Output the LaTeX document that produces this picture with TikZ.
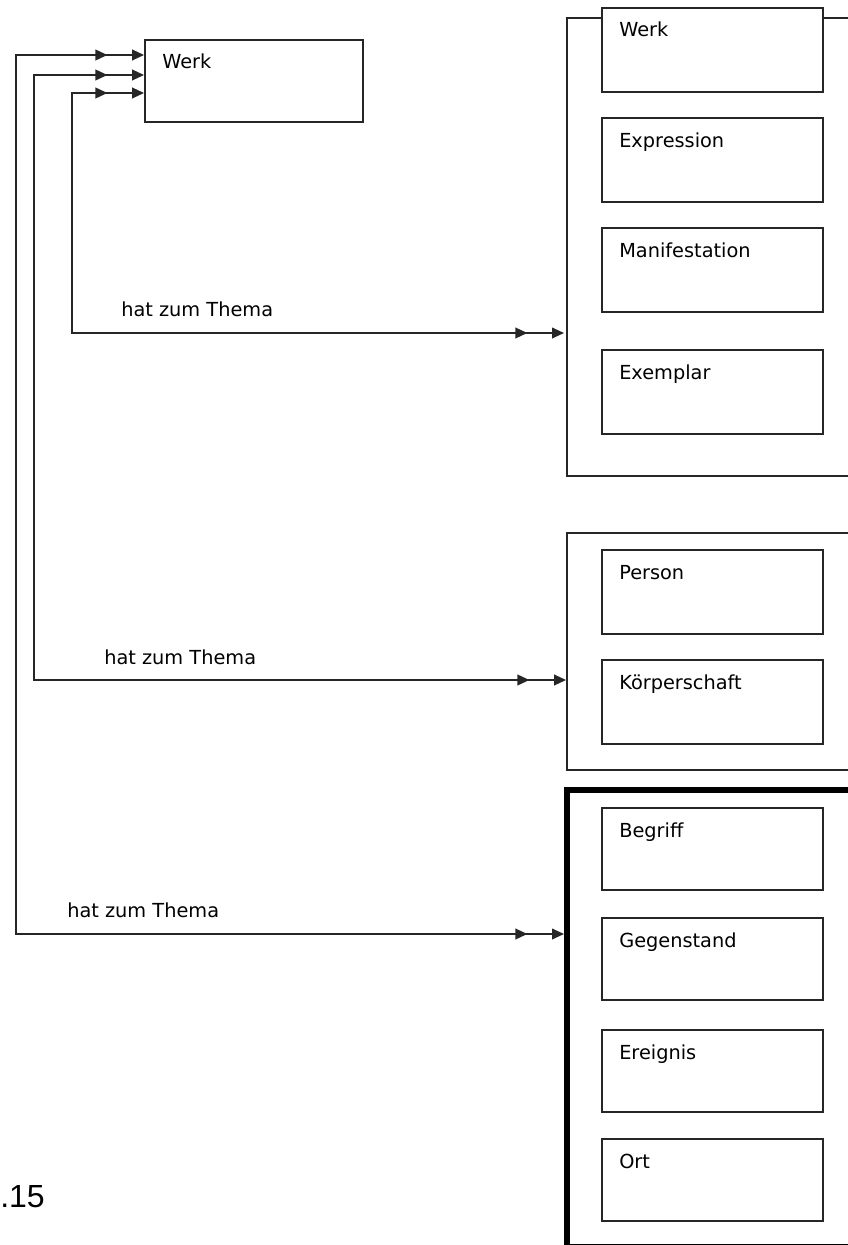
\documentclass[tikz,border=0pt]{standalone}
\usepackage{fontspec}
\setmainfont{DejaVu Sans}
\newfontfamily\pagefont{Liberation Sans}
\usetikzlibrary{arrows.meta}

\begin{document}
\begin{tikzpicture}
  [
    x=0.75pt, y=-0.75pt,
    every node/.style={font=\fontsize{14.5}{17}\selectfont},
    entity/.style={
       draw=black!85,
       fill=white,
       line width=1.4pt,
       anchor=north west,
       inner sep=0pt,
       outer sep=0pt,
       minimum width=165.75pt,
       minimum height=63pt
    },
    entname/.style={
       anchor=base west,
       inner sep=0pt,
       xshift=12.75pt,
       yshift=-21.75pt
    },
    cluster/.style={
       draw=black!85,
       line width=1.4pt,
       anchor=north west,
       inner sep=0pt,
       outer sep=0pt,
       minimum width=260pt
    },
    rel/.style={
       draw=black!85,
       line width=1.4pt,
       {Triangle[length=9pt,width=8pt] Triangle[length=9pt,width=8pt,sep=18.5pt]}-{Triangle[length=9pt,width=8pt,sep=18.5pt] Triangle[length=9pt,width=8pt]}
    }
  ]
  \useasboundingbox (0,0) rectangle (848,1245);
  \clip (0,0) rectangle (848,1245);

  \node (thema1) at (567,18)  [cluster, minimum height=343.5pt] {};
  \node (thema2) at (567,533) [cluster, minimum height=177.75pt] {};
  \node (thema3) at (567,790) [cluster, draw=black, line width=4.5pt, minimum height=342.75pt] {};

  \node (werk2)  at (602,8)    [entity, label={[entname]north west:Werk}] {};
  \node (expr)   at (602,118)  [entity, label={[entname]north west:Expression}] {};
  \node (manif)  at (602,228)  [entity, label={[entname]north west:Manifestation}] {};
  \node (exempl) at (602,350)  [entity, label={[entname]north west:Exemplar}] {};
  \node (person) at (602,550)  [entity, label={[entname]north west:Person}] {};
  \node (koerp)  at (602,660)  [entity, label={[entname]north west:Körperschaft}] {};
  \node (begr)   at (602,808)  [entity, minimum height=61.5pt, label={[entname]north west:Begriff}] {};
  \node (gegen)  at (602,918)  [entity, minimum height=61.5pt, label={[entname]north west:Gegenstand}] {};
  \node (ereig)  at (602,1030) [entity, minimum height=61.5pt, label={[entname]north west:Ereignis}] {};
  \node (ort)    at (602,1139) [entity, minimum height=61.5pt, label={[entname]north west:Ort}] {};

  \node (werk) at (145,40) [entity, minimum width=163.5pt, minimum height=61.5pt,
                            label={[entname]north west:Werk}] {};

  \node (lab1) at (121,316) [anchor=base west, inner sep=0pt] {hat zum Thema};
  \node (lab2) at (104,664) [anchor=base west, inner sep=0pt] {hat zum Thema};
  \node (lab3) at (67,917)  [anchor=base west, inner sep=0pt] {hat zum Thema};

  \draw [rel] ([xshift=-2.25pt]thema1.west |- 0,333) -| (72,93) -- ([xshift=-0.7pt]werk.west |- 0,93);
  \draw [rel] ([xshift=-0.7pt]thema2.west |- 0,680) -| (34,75) -- ([xshift=-0.7pt]werk.west |- 0,75);
  \draw [rel] ([xshift=-2.25pt]thema3.west |- 0,934) -| (16,55) -- ([xshift=-0.7pt]werk.west |- 0,55);

  \node (seite) at (0,1207) [anchor=base west, inner sep=0pt,
                             font=\pagefont\fontsize{24}{28}\selectfont] {.15};
\end{tikzpicture}
\end{document}
